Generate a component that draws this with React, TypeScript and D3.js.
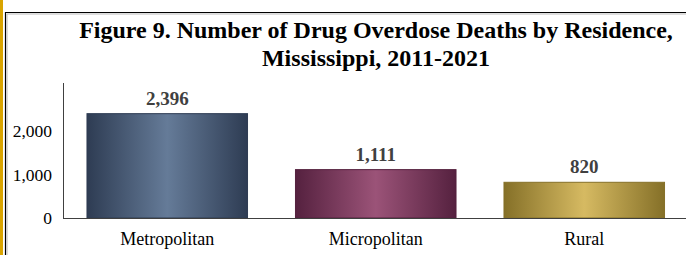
import React, { useEffect, useRef } from "react";
import * as d3 from "d3";

const categories = ["Metropolitan", "Micropolitan", "Rural"];
const deaths = [2396, 1111, 820];
const yTicks = [0, 1000, 2000];
const titleLines = [
  "Figure 9. Number of Drug Overdose Deaths by Residence,",
  "Mississippi, 2011-2021",
];
const barColors = [
  { edge: "#2e3c53", mid: "#657b98" },
  { edge: "#55213f", mid: "#9b5378" },
  { edge: "#857028", mid: "#d6ba62" },
];

const FONT = "'Liberation Serif', 'Times New Roman', serif";

const App: React.FC = () => {
  const svgRef = useRef<SVGSVGElement>(null);

  useEffect(() => {
    if (!svgRef.current) return;
    const width = 686;
    const height = 255;
    const margin = { top: 83, left: 63, bottom: 37 };

    const svg = d3.select(svgRef.current).attr("width", width).attr("height", height);
    svg.selectAll("*").remove();

    // left accent strip and frame
    svg.append("rect").attr("x", 0).attr("y", 0).attr("width", 3).attr("height", height).attr("fill", "#d9a400");
    svg
      .append("path")
      .attr("d", `M5.5,${height} V12.5 H${width}`)
      .attr("fill", "none")
      .attr("stroke", "#000")
      .attr("stroke-width", 1.2);
    svg
      .append("path")
      .attr("d", `M7,${height} V14 H${width}`)
      .attr("fill", "none")
      .attr("stroke", "#bbb")
      .attr("stroke-width", 1);

    const defs = svg.append("defs");
    barColors.forEach((c, i) => {
      const g = defs
        .append("linearGradient")
        .attr("id", `grad${i}`)
        .attr("x1", "0%")
        .attr("x2", "100%")
        .attr("y1", "0%")
        .attr("y2", "0%");
      g.append("stop").attr("offset", "0%").attr("stop-color", c.edge);
      g.append("stop").attr("offset", "50%").attr("stop-color", c.mid);
      g.append("stop").attr("offset", "100%").attr("stop-color", c.edge);
    });

    const x = d3
      .scaleBand<string>()
      .domain(categories)
      .range([margin.left, margin.left + 3 * 208.5])
      .paddingInner(0.23)
      .paddingOuter(0.115);

    const y = d3
      .scaleLinear()
      .domain([0, 3100])
      .range([height - margin.bottom, margin.top]);

    // title
    svg
      .append("g")
      .selectAll("text")
      .data(titleLines)
      .join("text")
      .attr("x", 376)
      .attr("y", (_, i) => 38 + i * 28)
      .attr("text-anchor", "middle")
      .attr("font-family", FONT)
      .attr("font-weight", "bold")
      .attr("font-size", 24)
      .attr("fill", "#000")
      .text((d) => d);

    // bars
    svg
      .append("g")
      .selectAll("rect")
      .data(deaths)
      .join("rect")
      .attr("x", (_, i) => x(categories[i])!)
      .attr("y", (d) => y(d))
      .attr("width", x.bandwidth())
      .attr("height", (d) => y(0) - y(d))
      .attr("fill", (_, i) => `url(#grad${i})`)
      .attr("stroke", (_, i) => barColors[i].edge)
      .attr("stroke-width", 1);

    // value labels
    svg
      .append("g")
      .selectAll("text")
      .data(deaths)
      .join("text")
      .attr("x", (_, i) => x(categories[i])! + x.bandwidth() / 2)
      .attr("y", (d) => y(d) - 9)
      .attr("text-anchor", "middle")
      .attr("font-family", FONT)
      .attr("font-weight", "bold")
      .attr("font-size", 19)
      .attr("fill", "#404040")
      .text((d) => d3.format(",")(d));

    // y axis
    const yAxis = svg
      .append("g")
      .attr("transform", `translate(${margin.left},0)`)
      .call(d3.axisLeft(y).tickValues(yTicks).tickSize(0).tickPadding(11).tickFormat(d3.format(",")));
    yAxis.select(".domain").attr("stroke", "#404040").attr("d", `M0.5,${margin.top}V${y(0)}`);
    yAxis
      .selectAll("text")
      .attr("font-family", FONT)
      .attr("font-size", 17.5)
      .attr("fill", "#000");

    // x axis
    const xAxis = svg
      .append("g")
      .attr("transform", `translate(0,${y(0)})`)
      .call(d3.axisBottom(x).tickSize(0).tickPadding(14));
    xAxis.select(".domain").attr("stroke", "#404040").attr("d", `M${margin.left},0.5H${width}`);
    xAxis
      .selectAll("text")
      .attr("font-family", FONT)
      .attr("font-size", 18)
      .attr("fill", "#000");
  }, []);

  return (
    <div style={{ position: "absolute", left: 0, top: 0 }}>
      <svg ref={svgRef}></svg>
    </div>
  );
};

export default App;
